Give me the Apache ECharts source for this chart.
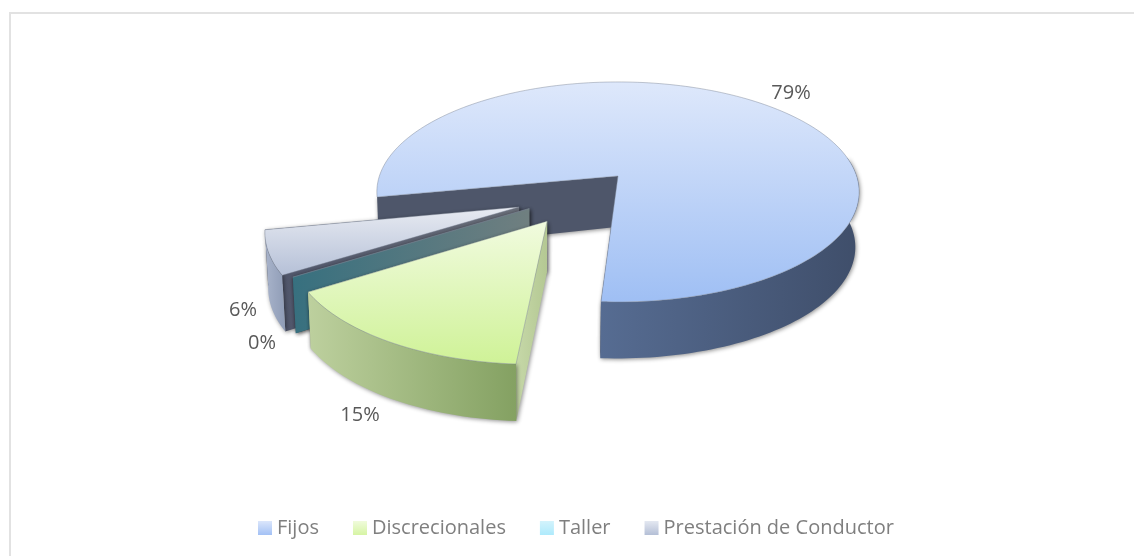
<!DOCTYPE html>
<html>
<head>
<meta charset="utf-8">
<style>html,body{margin:0;padding:0;background:#fff}#c{width:1134px;height:556px}</style>
<script src="https://cdn.jsdelivr.net/npm/echarts@6/dist/echarts.min.js"></script>
</head>
<body>
<div id="c"></div>
<script>
// Data
const categories = ['Fijos', 'Discrecionales', 'Taller', 'Prestación de Conductor'];
const percentages = [79, 15, 0, 6];

// Per-slice appearance, same order as categories
const topColors   = [['#dee8fb', '#9fbff4'], ['#f1fbdf', '#cff297'], ['#c9eefa', '#aee9fc'], ['#e8ebf2', '#b5c0d7']];
const rimColors   = [['#566c92', '#3f4e6a'], ['#bdd09e', '#84a162'], ['#3e7080', '#3e7080'], ['#a9b4cb', '#8f9cb6']];
const cutColors   = [['#4e566a', '#4e566a'], ['#c6d8a8', '#b4c893'], ['#37707f', '#707f80'], ['#50566b', '#6a6f7a']];
const swatchColors = [['#dbe6fb', '#a3c1f5'], ['#f0fbdc', '#d6f4a4'], ['#d3f3fc', '#aeeafc'], ['#e4e8f1', '#b4bfd6']];
const drawOrder   = [1, 4, 3, 2];
// Explosion of each slice in the pie's own plane, in units of one radius
const explode     = [[0, 0], [-0.28, 0.395], [-0.356, 0.289], [-0.398, 0.276]];
const labelAt     = [[791, 93], [360, 415], [262, 343], [243, 310]];

// Perspective of the pie plane
const VIEW = { cx: 618, cy: 176, a: 238.6, b: 107.7, k: 0.145, hTip: 51, hRim: 55, hSlope: 1.5, vpx: 540, lean: 0.012 };
const START_ANGLE = -100.9;   // degrees clockwise from the back of the pie

const total = percentages.reduce((s, v) => s + v, 0);
const spans = [];
percentages.reduce((acc, v) => {
  const next = acc + v / total * 360;
  spans.push([acc, next]);
  return next;
}, START_ANGLE);

function project(u, v) {
  const d = 1 - VIEW.k * v;
  return [VIEW.cx + VIEW.a * u / d, VIEW.cy + VIEW.b * v / d];
}
function bottomRim(u, v) {
  const p = project(u, v);
  return [p[0] + (VIEW.vpx - p[0]) * VIEW.lean, p[1] + VIEW.hRim + VIEW.hSlope * v];
}
function bottomTip(u, v) {
  const p = project(u, v);
  return [p[0] + (VIEW.vpx - p[0]) * VIEW.lean * 2, p[1] + VIEW.hTip];
}
function rimUV(deg, off) {
  const r = deg * Math.PI / 180;
  return [Math.sin(r) + off[0], -Math.cos(r) + off[1]];
}
function arcAngles(a0, a1) {
  const out = [];
  const n = Math.max(1, Math.ceil((a1 - a0) / 1.5));
  for (let i = 0; i <= n; i++) out.push(a0 + (a1 - a0) * i / n);
  return out;
}
function grad(c, horizontal) {
  return new echarts.graphic.LinearGradient(0, 0, horizontal ? 1 : 0, horizontal ? 0 : 1,
    [{ offset: 0, color: c[0] }, { offset: 1, color: c[1] }]);
}
const SHADOW = { shadowBlur: 4, shadowColor: 'rgba(0,0,0,0.45)', shadowOffsetX: 1, shadowOffsetY: 1 };

function makeRender(i) {
  return function () {
    const off = explode[i];
    const a0 = spans[i][0], a1 = spans[i][1];
    const children = [];

    // Cut walls
    [a1, a0].forEach(function (ang) {
      const rim = rimUV(ang, off);
      children.push({
        type: 'polygon',
        shape: { points: [project(off[0], off[1]), project(rim[0], rim[1]),
                          bottomRim(rim[0], rim[1]), bottomTip(off[0], off[1])] },
        style: Object.assign({ fill: grad(cutColors[i], true) }, SHADOW)
      });
    });

    // Outer wall: only the part of the rim that faces the viewer
    const w0 = Math.max(a0, 80), w1 = Math.min(a1, 280);
    if (w1 > w0) {
      const angs = arcAngles(w0, w1);
      const upper = angs.map(a => { const p = rimUV(a, off); return project(p[0], p[1]); });
      const lower = angs.slice().reverse().map(a => { const p = rimUV(a, off); return bottomRim(p[0], p[1]); });
      children.push({
        type: 'polygon',
        shape: { points: upper.concat(lower) },
        style: Object.assign({ fill: grad(rimColors[i], true) }, SHADOW)
      });
    }

    // Top face
    const facePts = [project(off[0], off[1])].concat(
      arcAngles(a0, a1).map(a => { const p = rimUV(a, off); return project(p[0], p[1]); }));
    children.push({
      type: 'polygon',
      shape: { points: facePts },
      style: { fill: grad(topColors[i], false), stroke: 'rgba(120,128,145,0.55)', lineWidth: 0.8 }
    });

    return { type: 'group', children: children };
  };
}

const series = categories.map((name, i) => ({
  type: 'custom',
  name: name,
  coordinateSystem: 'none',
  z: drawOrder[i] + 1,
  silent: true,
  animation: false,
  itemStyle: { color: swatchColors[i][1] },
  data: [[percentages[i]]],
  renderItem: makeRender(i)
}));

// Percent labels drawn above every slice
series.push({
  type: 'custom',
  coordinateSystem: 'none',
  z: 20,
  silent: true,
  animation: false,
  data: percentages.map((v, i) => [v, i]),
  renderItem: function (params, api) {
    const i = api.value(1);
    return {
      type: 'text',
      x: labelAt[i][0], y: labelAt[i][1],
      style: {
        text: api.value(0) + '%', fill: '#595959',
        font: '20px "Open Sans"', align: 'center', verticalAlign: 'middle'
      }
    };
  }
});

const chart = echarts.init(document.getElementById('c'), null, { renderer: 'canvas' });
chart.setOption({
  animation: false,
  backgroundColor: '#ffffff',
  graphic: [
    { type: 'line', shape: { x1: 9, y1: 13, x2: 1134, y2: 13 }, style: { stroke: '#e2e2e2', lineWidth: 2 } },
    { type: 'line', shape: { x1: 10, y1: 12, x2: 10, y2: 556 }, style: { stroke: '#e2e2e2', lineWidth: 2 } }
  ],
  legend: {
    left: 258, top: 513,
    padding: [5, 0, 5, 0],
    itemWidth: 14, itemHeight: 14, itemGap: 34,
    icon: 'rect',
    textStyle: { color: '#7f7f7f', fontFamily: 'Open Sans', fontSize: 20 },
    data: categories.map((name, i) => ({
      name: name,
      itemStyle: { color: grad(swatchColors[i], false) }
    }))
  },
  series: series
});
</script>
</body>
</html>
